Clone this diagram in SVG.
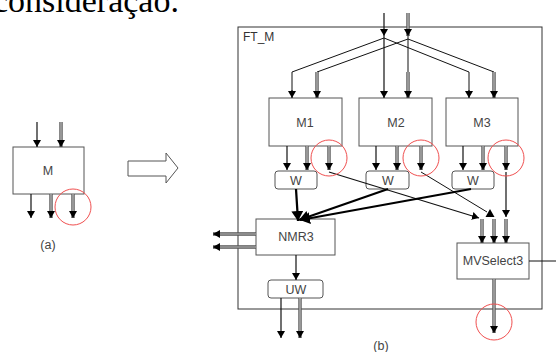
<svg xmlns="http://www.w3.org/2000/svg" width="556" height="352" viewBox="0 0 556 352">
<defs>
<marker id="ah" markerUnits="userSpaceOnUse" markerWidth="8" markerHeight="8" refX="7" refY="4" orient="auto" viewBox="0 0 8 8">
<path d="M0,0 L7,4 L0,8 z" fill="#000"/>
</marker>
<marker id="ahb" markerUnits="userSpaceOnUse" markerWidth="12" markerHeight="12" refX="10" refY="6" orient="auto" viewBox="0 0 12 12">
<path d="M0,0 L10,6 L0,12 z" fill="#000"/>
</marker>
</defs>
<style>
.box{fill:#fff;stroke:#555;stroke-width:1}
.frame{fill:none;stroke:#333;stroke-width:1}
.lbl{font-family:"Liberation Sans",Arial,sans-serif;font-size:12.5px;fill:#444;text-anchor:middle}
.thin{fill:none;stroke:#111;stroke-width:1}
.s{fill:none;stroke:#111;stroke-width:1.2;marker-end:url(#ah)}
.do{fill:none;stroke:#555;stroke-width:3.4;marker-end:url(#ah)}
.di{fill:none;stroke:#c4c4c4;stroke-width:1.2}
.thick{fill:none;stroke:#000;stroke-width:2.2;marker-end:url(#ahb)}
.red{fill:none;stroke:#f05050;stroke-width:1}
</style>
<rect width="556" height="352" fill="#fff"/>
<text x="-7" y="12" font-family="Liberation Serif, serif" font-size="34" fill="#000">consideração.</text>

<!-- (a) -->
<g id="M">
<rect class="box" x="13" y="147" width="71" height="47"/>
<text class="lbl" x="48" y="175">M</text>
</g>
<g id="a-connectors">
<line class="s" x1="37" y1="122" x2="37" y2="147"/>
<line class="do" x1="61" y1="122" x2="61" y2="147"/><line class="di" x1="61" y1="122" x2="61" y2="140"/>
<line class="s" x1="31" y1="194" x2="31" y2="218"/>
<line class="do" x1="51" y1="194" x2="51" y2="218"/><line class="di" x1="51" y1="194" x2="51" y2="211"/>
<line class="do" x1="73" y1="194" x2="73" y2="218"/><line class="di" x1="73" y1="194" x2="73" y2="211"/>
<circle class="red" cx="73" cy="207" r="18"/>
</g>
<text class="lbl" x="48" y="249">(a)</text>
<polygon points="128,161 166,161 166,153 178,168 166,183 166,176 128,176" fill="#fff" stroke="#555" stroke-width="1"/>

<!-- (b) -->
<g id="FT_M">
<rect class="frame" x="238" y="27" width="304" height="282"/>
<text x="243" y="41" font-family="Liberation Sans, Arial, sans-serif" font-size="12" fill="#333">FT_M</text>
</g>
<g id="M1"><rect class="box" x="269" y="98" width="73" height="48"/><text class="lbl" x="305" y="127">M1</text></g>
<g id="M2"><rect class="box" x="359" y="98" width="73" height="48"/><text class="lbl" x="396" y="127">M2</text></g>
<g id="M3"><rect class="box" x="446" y="98" width="72" height="48"/><text class="lbl" x="482" y="127">M3</text></g>
<g id="W1"><rect class="box" x="275" y="171" width="42" height="18" rx="3"/><text class="lbl" x="296" y="185">W</text></g>
<g id="W2"><rect class="box" x="366" y="171" width="43" height="18" rx="3"/><text class="lbl" x="388" y="185">W</text></g>
<g id="W3"><rect class="box" x="452" y="171" width="42" height="18" rx="3"/><text class="lbl" x="473" y="185">W</text></g>
<g id="NMR3"><rect class="box" x="256" y="219" width="79" height="36"/><text class="lbl" x="296" y="241">NMR3</text></g>
<g id="UW"><rect class="box" x="268" y="280" width="55" height="18" rx="3"/><text class="lbl" x="296" y="294">UW</text></g>
<g id="MVSelect3"><rect class="box" x="457" y="243" width="72" height="36"/><text class="lbl" x="493" y="265">MVSelect3</text></g>

<g id="connectors">
<!-- top inputs -->
<line class="s" x1="384" y1="13" x2="384" y2="36"/>
<line class="do" x1="408" y1="13" x2="408" y2="36"/><line class="di" x1="408" y1="13" x2="408" y2="29"/>
<polyline class="thin" points="384,38 292,72 292,92"/><line class="s" x1="292" y1="90" x2="292" y2="98"/>
<line class="s" x1="384" y1="36" x2="384" y2="98"/>
<polyline class="thin" points="384,38 469,72 469,92"/><line class="s" x1="469" y1="90" x2="469" y2="98"/>
<polyline class="thin" points="408,39 317,72"/>
<line class="do" x1="317" y1="72" x2="317" y2="98"/><line class="di" x1="317" y1="72" x2="317" y2="91"/>
<line class="thin" x1="408" y1="36" x2="408" y2="72"/>
<line class="do" x1="408" y1="72" x2="408" y2="98"/><line class="di" x1="408" y1="72" x2="408" y2="91"/>
<polyline class="thin" points="408,39 494,72"/>
<line class="do" x1="494" y1="72" x2="494" y2="98"/><line class="di" x1="494" y1="72" x2="494" y2="91"/>

<!-- M outputs -->
<line class="s" x1="287" y1="146" x2="287" y2="170"/>
<line class="do" x1="307" y1="146" x2="307" y2="170"/><line class="di" x1="307" y1="146" x2="307" y2="163"/>
<line class="do" x1="329" y1="146" x2="329" y2="170"/><line class="di" x1="329" y1="146" x2="329" y2="163"/>
<line class="s" x1="376" y1="146" x2="376" y2="170"/>
<line class="do" x1="397" y1="146" x2="397" y2="170"/><line class="di" x1="397" y1="146" x2="397" y2="163"/>
<line class="do" x1="421" y1="146" x2="421" y2="170"/><line class="di" x1="421" y1="146" x2="421" y2="163"/>
<line class="s" x1="463" y1="146" x2="463" y2="170"/>
<line class="do" x1="483" y1="146" x2="483" y2="170"/><line class="di" x1="483" y1="146" x2="483" y2="163"/>
<line class="do" x1="506" y1="146" x2="506" y2="170"/><line class="di" x1="506" y1="146" x2="506" y2="163"/>

<!-- circled outputs to MVSelect3 -->
<line class="s" x1="329" y1="172" x2="479" y2="218"/>
<line class="thin" x1="421" y1="172" x2="487" y2="212"/>
<polygon points="490,209 494.5,217 485.5,217" fill="#000"/>
<line class="s" x1="506" y1="172" x2="506" y2="217"/>
<line class="do" x1="482" y1="219" x2="482" y2="243"/><line class="di" x1="482" y1="219" x2="482" y2="236"/>
<line class="do" x1="494" y1="219" x2="494" y2="243"/><line class="di" x1="494" y1="219" x2="494" y2="236"/>
<line class="do" x1="506" y1="219" x2="506" y2="243"/><line class="di" x1="506" y1="219" x2="506" y2="236"/>

<!-- W to NMR3 -->
<line class="thick" x1="296" y1="189" x2="298" y2="221"/>
<line class="thick" x1="388" y1="189" x2="299" y2="220"/>
<line class="thick" x1="471" y1="189" x2="300" y2="220"/>

<!-- NMR3 outputs -->
<line class="do" x1="256" y1="234" x2="213" y2="234"/><line class="di" x1="256" y1="234" x2="220" y2="234"/>
<line class="do" x1="256" y1="247" x2="213" y2="247"/><line class="di" x1="256" y1="247" x2="220" y2="247"/>
<line class="s" x1="296" y1="255" x2="296" y2="280"/>
<line class="s" x1="281" y1="298" x2="281" y2="338"/>
<line class="do" x1="300" y1="298" x2="300" y2="338"/><line class="di" x1="300" y1="298" x2="300" y2="331"/>

<!-- MVSelect3 outputs -->
<line class="thin" x1="529" y1="261" x2="556" y2="261"/>
<line class="do" x1="494" y1="279" x2="494" y2="333"/><line class="di" x1="494" y1="279" x2="494" y2="326"/>
</g>
<g id="highlights">
<circle class="red" cx="329" cy="158" r="18"/>
<circle class="red" cx="421" cy="158" r="18"/>
<circle class="red" cx="506" cy="158" r="18"/>
<circle class="red" cx="494" cy="322" r="18"/>
</g>
<text class="lbl" x="381" y="350">(b)</text>
</svg>
